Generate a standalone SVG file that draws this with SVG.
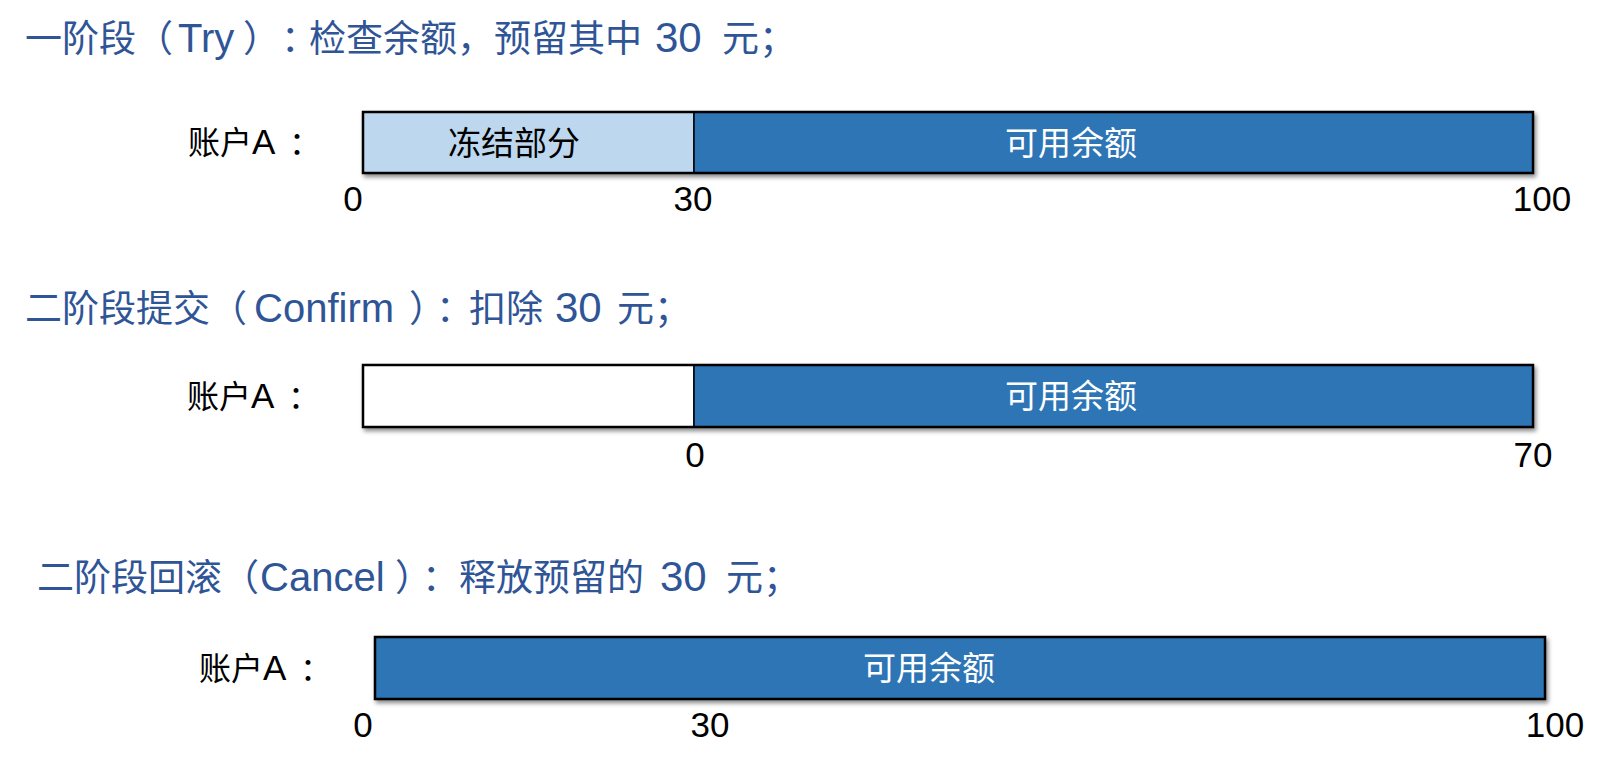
<svg xmlns="http://www.w3.org/2000/svg" width="1624" height="764" viewBox="0 0 1624 764">
<style>
text{font-family:"Liberation Sans","Noto Sans CJK SC",sans-serif;}
.title{font-size:37px;fill:#2F5597;}
.lat{font-size:40px;}
.dig{font-size:42px;}
.lbl{font-size:32px;fill:#000;}
.lblA{font-size:35px;}
.num{font-size:35px;fill:#000;text-anchor:middle;}
.in{font-size:33px;text-anchor:middle;}
.dark{fill:#2E75B6;}
.light{fill:#BDD7EE;}
.white{fill:#FFFFFF;}
.seg{stroke:#000;stroke-width:1.5;}
.frame{fill:none;stroke:#000;stroke-width:2.5;}
</style>
<defs>
<filter id="sh" x="-5%" y="-20%" width="110%" height="160%">
<feDropShadow dx="2" dy="3" stdDeviation="2" flood-color="#000" flood-opacity="0.45"/>
</filter>
</defs>
<rect width="1624" height="764" fill="#fff"/>

<g id="stage1">
<text class="title" x="25" y="52">一阶段（<tspan class="lat" x="178">Try</tspan><tspan x="243">）</tspan><tspan x="281" letter-spacing="-9">：</tspan><tspan x="309">检查余额，预留其中</tspan><tspan class="dig" x="655">30</tspan><tspan x="722">元；</tspan></text>
<text class="lbl" x="188" y="154">账户<tspan class="lblA">A</tspan><tspan x="289">：</tspan></text>
<g id="bar1" filter="url(#sh)">
<rect class="light seg" x="363" y="112" width="331" height="61"/>
<rect class="dark seg" x="694" y="112" width="839" height="61"/>
<rect class="frame" x="363" y="112" width="1170" height="61"/>
</g>
<text class="in" x="514" y="155" fill="#000">冻结部分</text>
<text class="in" x="1071" y="155" fill="#fff">可用余额</text>
<text class="num" x="353" y="211">0</text>
<text class="num" x="693" y="211">30</text>
<text class="num" x="1542" y="211">100</text>
</g>

<g id="stage2">
<text class="title" x="25" y="322">二阶段提交（<tspan class="lat" x="254">Confirm</tspan><tspan x="409" letter-spacing="-10">）</tspan><tspan x="436" letter-spacing="-5">：</tspan><tspan x="469">扣除</tspan><tspan class="dig" x="555">30</tspan><tspan x="617">元；</tspan></text>
<text class="lbl" x="187" y="408">账户<tspan class="lblA">A</tspan><tspan x="288">：</tspan></text>
<g id="bar2" filter="url(#sh)">
<rect class="white seg" x="363" y="365" width="331" height="62"/>
<rect class="dark seg" x="694" y="365" width="839" height="62"/>
<rect class="frame" x="363" y="365" width="1170" height="62"/>
</g>
<text class="in" x="1071" y="408" fill="#fff">可用余额</text>
<text class="num" x="695" y="467">0</text>
<text class="num" x="1533" y="467">70</text>
</g>

<g id="stage3">
<text class="title" x="37" y="591">二阶段回滚（<tspan class="lat" x="260">Cancel</tspan><tspan x="395" letter-spacing="-10">）</tspan><tspan x="422" letter-spacing="-2">：</tspan><tspan x="459">释放预留的</tspan><tspan class="dig" x="660">30</tspan><tspan x="726">元；</tspan></text>
<text class="lbl" x="199" y="680">账户<tspan class="lblA">A</tspan><tspan x="300">：</tspan></text>
<g id="bar3" filter="url(#sh)">
<rect class="frame" x="375" y="637" width="1170" height="62" style="fill:#2E75B6"/>
</g>
<text class="in" x="929" y="680" fill="#fff">可用余额</text>
<text class="num" x="363" y="737">0</text>
<text class="num" x="710" y="737">30</text>
<text class="num" x="1555" y="737">100</text>
</g>

<g id="connectors"></g>
</svg>
